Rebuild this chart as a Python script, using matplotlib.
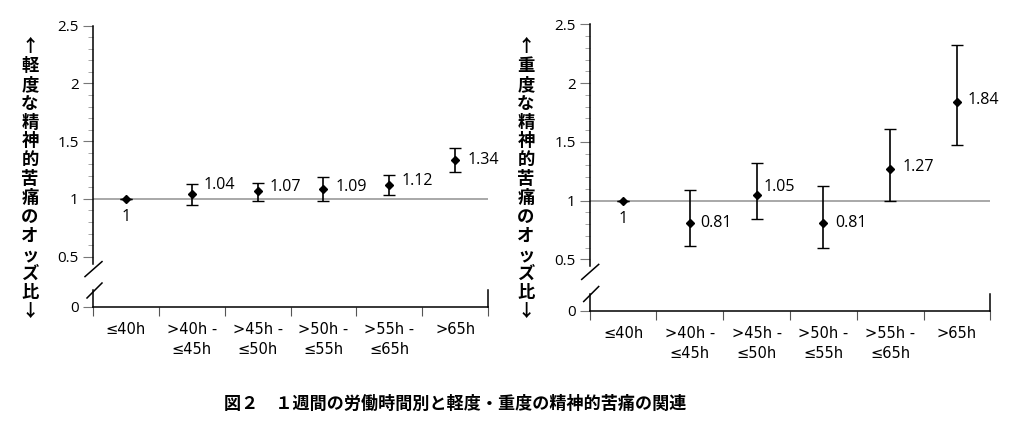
import matplotlib
matplotlib.use('Agg')
import matplotlib.pyplot as plt
from matplotlib.lines import Line2D
from matplotlib.ticker import MultipleLocator, FixedLocator, FuncFormatter, NullFormatter

plt.rcParams['font.family'] = ['Open Sans', 'DejaVu Sans']

# ---------------- data ----------------
categories = ['≤40h', '>40h -\n≤45h', '>45h -\n≤50h', '>50h -\n≤55h', '>55h -\n≤65h', '>65h']
mild_or = [1.00, 1.04, 1.07, 1.09, 1.12, 1.34]
mild_lo = [1.00, 0.95, 0.98, 0.98, 1.03, 1.23]
mild_hi = [1.00, 1.13, 1.14, 1.19, 1.21, 1.44]
mild_labels = ['1', '1.04', '1.07', '1.09', '1.12', '1.34']
severe_or = [1.00, 0.81, 1.05, 0.81, 1.27, 1.84]
severe_lo = [1.00, 0.61, 0.84, 0.60, 1.00, 1.47]
severe_hi = [1.00, 1.09, 1.32, 1.12, 1.61, 2.32]
severe_labels = ['1', '0.81', '1.05', '0.81', '1.27', '1.84']
ylabel_mild = '↑軽度な精神的苦痛のオッズ比↓'
ylabel_severe = '↑重度な精神的苦痛のオッズ比↓'
caption = '図２　１週間の労働時間別と軽度・重度の精神的苦痛の関連'

# label offsets in pixels (style only)
mild_offsets = [(0, -18), (12, 9), (12, 4), (12, 2), (12, 4), (12, 0)]
severe_offsets = [(0, -18), (10, 0), (7, 8), (12, 0), (12, 2), (11, 2)]

W, H = 1024, 428
fig = plt.figure(figsize=(W / 100, H / 100), dpi=100)

CJK = ['Noto Sans CJK JP', 'DejaVu Sans']
XFONT = ['DejaVu Sans']


def add_ax(x0, x1, ytop, ybot):
    return fig.add_axes([x0 / W, 1 - ybot / H, (x1 - x0) / W, (ybot - ytop) / H])


def fig_line(p, q):
    fig.add_artist(Line2D([p[0] / W, q[0] / W], [1 - p[1] / H, 1 - q[1] / H],
                          transform=fig.transFigure, color='black', lw=1.1))


def panel(x0, x1, ytop, ybrk, ybt, ybot, vals, lo, hi, labels, offsets, ylabel, ylab_x):
    n = len(categories)
    xs = list(range(n))
    top = add_ax(x0, x1, ytop, ybrk)
    bot = add_ax(x0, x1, ybt, ybot)

    # top axes
    top.set_ylim(0.44, 2.5)
    top.set_xlim(-0.5, n - 0.5)
    for s in ['top', 'right', 'bottom']:
        top.spines[s].set_visible(False)
    top.spines['left'].set_linewidth(1.1)
    top.yaxis.set_major_locator(MultipleLocator(0.5))
    top.yaxis.set_minor_locator(MultipleLocator(0.1))
    top.yaxis.set_major_formatter(FuncFormatter(lambda v, p: '%g' % v))
    top.tick_params(axis='y', which='major', length=7.2, width=0.8, color='#777777',
                    labelsize=11, pad=3)
    top.tick_params(axis='y', which='minor', length=3.6, width=0.6, color='#999999')
    top.set_xticks([])
    top.axhline(1.0, color='#9a9a9a', lw=1.2, zorder=1)
    yerr = [[v - l for v, l in zip(vals, lo)], [h - v for v, h in zip(vals, hi)]]
    top.errorbar(xs, vals, yerr=yerr, fmt='D', ms=4, color='black', ecolor='black',
                 elinewidth=1.2, capsize=4.5, capthick=1.0, zorder=3)
    for x, v, t, (dx, dy) in zip(xs, vals, labels, offsets):
        ha = 'center' if dx == 0 else 'left'
        top.annotate(t, (x, v), xytext=(dx, dy), textcoords='offset pixels',
                     ha=ha, va='center', fontsize=11.5)

    # bottom axes
    bot.set_ylim(0, 0.14)
    bot.set_xlim(-0.5, n - 0.5)
    bot.spines['top'].set_visible(False)
    for s in ['left', 'bottom', 'right']:
        bot.spines[s].set_linewidth(1.1)
    bot.set_yticks([0])
    bot.yaxis.set_major_formatter(FuncFormatter(lambda v, p: '%g' % v))
    bot.tick_params(axis='y', which='major', length=7.2, width=0.8, color='#777777',
                    labelsize=11, pad=3)
    bot.xaxis.set_major_locator(FixedLocator([i - 0.5 for i in range(n + 1)]))
    bot.xaxis.set_major_formatter(NullFormatter())
    bot.xaxis.set_minor_locator(FixedLocator(xs))
    bot.set_xticklabels(categories, minor=True, linespacing=1.45, family=XFONT)
    bot.tick_params(axis='x', which='major', length=6.5, width=0.8, color='#555555')
    bot.tick_params(axis='x', which='minor', length=0, labelsize=10.5, pad=11)

    # break marks
    fig_line((x0 - 8, ybrk + 13), (x0 + 9, ybrk - 2))
    fig_line((x0 - 6, ybt + 8), (x0 + 9, ybt - 7))

    # vertical y label, stacked characters
    y_start = 47
    step = 18.9
    for i, ch in enumerate(ylabel):
        fig.text(ylab_x / W, 1 - (y_start + i * step) / H, ch, family=CJK,
                 fontsize=12.5, fontweight='bold', ha='center', va='center')


panel(93, 488, 25.7, 263.6, 290, 306.5, mild_or, mild_lo, mild_hi, mild_labels,
      mild_offsets, ylabel_mild, 30)
panel(589.7, 990.3, 24.3, 266.4, 293.5, 310.5, severe_or, severe_lo, severe_hi,
      severe_labels, severe_offsets, ylabel_severe, 526)

fig.text(455 / W, 1 - 404 / H, caption, family=CJK, fontsize=12.3, fontweight='bold',
         ha='center', va='center')

fig.savefig('out.png', dpi=100)
